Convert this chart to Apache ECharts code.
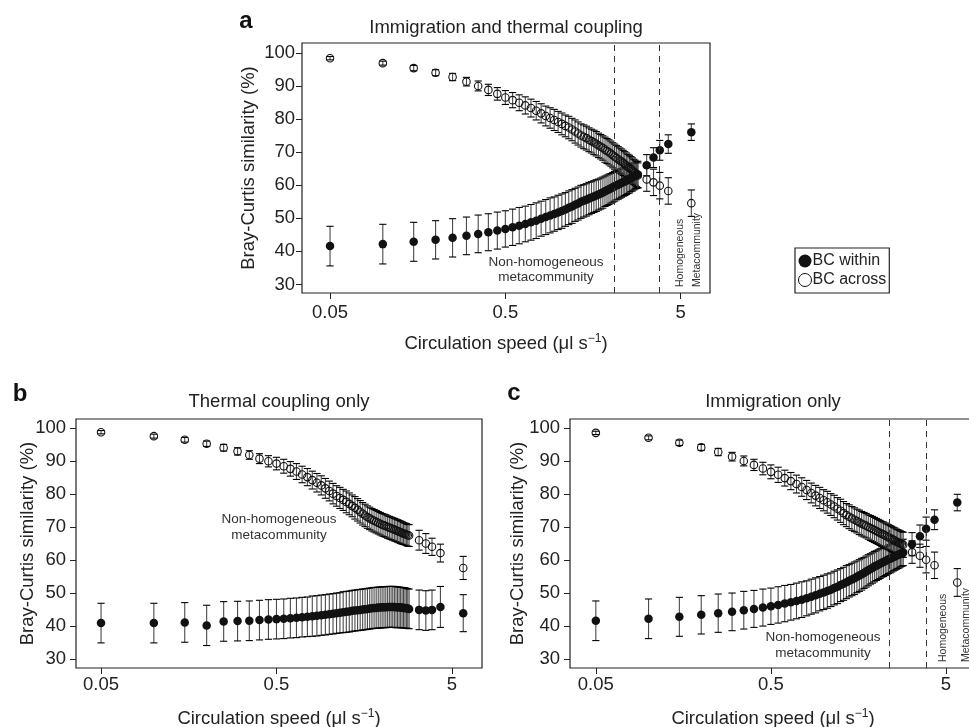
<!DOCTYPE html>
<html>
<head>
<meta charset="utf-8">
<script src="https://cdn.jsdelivr.net/npm/echarts/dist/echarts.min.js"></script>
<style>
html,body{margin:0;padding:0;background:#fff;}
#chart{width:969px;height:727px;}
</style>
</head>
<body>
<div id="chart"></div>
<script>
// ---------- data ----------
const speeds = [0.05,0.1,0.15,0.2,0.25,0.3,0.35,0.4,0.45,0.5,0.55,0.6,0.65,0.7,0.75,0.8,0.85,0.9,0.95,1.0,
  1.05,1.1,1.15,1.2,1.25,1.3,1.35,1.4,1.45,1.5,1.55,1.6,1.65,1.7,1.75,1.8,1.85,1.9,1.95,2.0,
  2.05,2.1,2.15,2.2,2.25,2.3,2.35,2.4,2.45,2.5,2.55,2.6,2.65,2.7,2.75,2.8,2.85];
const xTicks = [0.05, 0.5, 5];
const yTicks = [30, 40, 50, 60, 70, 80, 90, 100];

// panel a: Immigration and thermal coupling
const aWithin = [41.6,42.2,42.9,43.5,44.1,44.7,45.3,45.8,46.3,46.8,47.3,47.8,48.3,48.8,49.3,49.9,50.4,50.9,51.3,51.8,
  52.2,52.7,53.2,53.6,54.1,54.5,55.0,55.3,55.6,56.0,56.3,56.6,56.9,57.2,57.5,57.8,58.2,58.5,58.8,59.1,
  59.4,59.7,60.0,60.2,60.5,60.7,61.0,61.2,61.4,61.7,61.9,62.2,62.4,62.7,62.9,63.1,63.3];
const aWithinErr = [6.0,6.0,5.9,5.8,5.8,5.7,5.7,5.6,5.6,5.5,5.5,5.5,5.4,5.4,5.4,5.3,5.3,5.3,5.2,5.2,
  5.2,5.1,5.1,5.1,5.0,5.0,5.0,4.9,4.9,4.9,4.8,4.8,4.8,4.7,4.7,4.7,4.6,4.6,4.6,4.5,
  4.5,4.5,4.4,4.4,4.4,4.3,4.3,4.3,4.2,4.2,4.2,4.1,4.1,4.1,4.0,4.0,4.0];
const aAcross = [98.5,97.0,95.5,94.1,92.8,91.4,90.1,88.9,87.7,86.6,85.8,85.0,84.2,83.4,82.6,81.8,81.0,80.4,79.8,79.2,
  78.6,78.0,77.5,76.9,76.3,75.7,75.1,74.7,74.3,73.8,73.4,73.0,72.6,72.1,71.7,71.3,70.8,70.4,70.0,69.6,
  69.1,68.7,68.3,67.9,67.5,67.2,66.8,66.4,66.0,65.6,65.3,64.9,64.5,64.1,63.8,63.4,63.0];
const aAcrossErr = [0.5,0.6,0.8,0.9,1.1,1.3,1.5,1.7,1.9,2.1,2.3,2.4,2.6,2.7,2.8,2.9,3.0,3.1,3.2,3.2,
  3.3,3.3,3.4,3.4,3.5,3.5,3.5,3.6,3.6,3.6,3.6,3.7,3.7,3.7,3.7,3.7,3.8,3.8,3.8,3.8,
  3.8,3.8,3.8,3.8,3.8,3.8,3.8,3.8,3.8,3.8,3.8,3.8,3.8,3.8,3.8,3.8,3.8];
const aSpeedsHigh = [3.2, 3.5, 3.8, 4.25, 5.75];
const aWithinHigh = [66.1, 68.4, 70.6, 72.5, 76.1];
const aWithinHighErr = [3.2, 3.0, 3.0, 2.8, 2.5];
const aAcrossHigh = [61.8, 60.9, 59.9, 58.3, 54.6];
const aAcrossHighErr = [3.6, 4.0, 4.0, 4.0, 4.0];
const aBoundaries = [2.09, 3.75];

// panel b: Thermal coupling only
const bWithin = [40.9,40.9,41.1,40.2,41.4,41.5,41.6,41.8,42.0,42.1,42.2,42.4,42.5,42.7,42.8,43.0,43.1,43.3,43.4,43.6,
  43.7,43.9,44.0,44.2,44.3,44.4,44.6,44.7,44.8,44.9,45.0,45.1,45.2,45.3,45.4,45.5,45.5,45.6,45.6,45.7,
  45.7,45.7,45.8,45.8,45.8,45.8,45.8,45.7,45.7,45.7,45.6,45.6,45.5,45.5,45.4,45.3,45.2];
const bWithinErr = [6.0,6.0,6.0,6.1,6.0,6.0,6.0,6.0,6.0,6.0,6.0,6.0,6.0,6.0,6.0,6.1,6.1,6.1,6.1,6.1,
  6.1,6.1,6.1,6.2,6.2,6.2,6.2,6.2,6.2,6.2,6.2,6.2,6.2,6.2,6.2,6.2,6.2,6.2,6.2,6.2,
  6.2,6.2,6.2,6.2,6.2,6.2,6.2,6.2,6.2,6.1,6.1,6.1,6.1,6.1,6.0,6.0,6.0];
const bAcross = [98.7,97.5,96.4,95.2,94.0,92.9,91.8,90.7,89.9,89.2,88.4,87.6,86.8,85.9,85.1,84.2,83.4,82.6,81.7,80.9,
  80.1,79.4,78.8,78.2,77.6,77.0,76.4,75.8,75.2,74.6,74.0,73.5,73.0,72.6,72.2,71.9,71.6,71.3,71.0,70.7,
  70.5,70.3,70.0,69.8,69.6,69.4,69.2,69.0,68.8,68.6,68.4,68.2,68.0,67.9,67.7,67.5,67.4];
const bAcrossErr = [0.5,0.6,0.7,0.8,1.0,1.1,1.3,1.5,1.7,1.9,2.1,2.2,2.4,2.5,2.6,2.7,2.8,2.9,3.0,3.0,
  3.1,3.1,3.2,3.2,3.3,3.3,3.3,3.4,3.4,3.4,3.4,3.4,3.4,3.4,3.4,3.4,3.4,3.4,3.4,3.4,
  3.4,3.4,3.4,3.4,3.4,3.4,3.4,3.4,3.4,3.4,3.4,3.4,3.3,3.3,3.3,3.3,3.3];
const bSpeedsHigh = [3.25, 3.55, 3.85, 4.3, 5.8];
const bWithinHigh = [44.9, 44.7, 44.9, 45.8, 43.9];
const bWithinHighErr = [6.0, 6.0, 6.0, 6.2, 5.6];
const bAcrossHigh = [66.0, 65.0, 64.0, 62.1, 57.6];
const bAcrossHighErr = [3.0, 3.0, 2.6, 2.7, 3.5];

// panel c: Immigration only
const cWithin = [41.6,42.2,42.8,43.4,43.9,44.3,44.8,45.2,45.6,46.0,46.4,46.8,47.2,47.6,48.0,48.4,48.9,49.3,49.8,50.2,
  50.6,51.0,51.5,51.9,52.4,52.8,53.3,53.7,54.1,54.5,54.9,55.3,55.7,56.1,56.5,56.9,57.3,57.6,58.0,58.3,
  58.6,58.9,59.2,59.4,59.7,59.9,60.2,60.4,60.6,60.9,61.1,61.3,61.5,61.7,61.9,62.1,62.3];
const cWithinErr = [6.0,6.0,5.9,5.8,5.8,5.7,5.7,5.6,5.6,5.5,5.5,5.5,5.4,5.4,5.4,5.3,5.3,5.3,5.2,5.2,
  5.2,5.1,5.1,5.1,5.0,5.0,5.0,4.9,4.9,4.9,4.8,4.8,4.8,4.7,4.7,4.7,4.6,4.6,4.6,4.5,
  4.5,4.5,4.4,4.4,4.4,4.3,4.3,4.3,4.2,4.2,4.2,4.1,4.1,4.1,4.0,4.0,4.0];
const cAcross = [98.5,97.0,95.5,94.1,92.7,91.3,90.0,88.8,87.7,86.7,85.8,84.8,83.9,83.0,82.1,81.2,80.3,79.5,78.8,78.1,
  77.5,76.8,76.2,75.5,74.9,74.2,73.6,73.1,72.6,72.2,71.8,71.4,71.0,70.7,70.4,70.0,69.7,69.4,69.1,68.8,
  68.5,68.2,67.9,67.7,67.4,67.1,66.9,66.6,66.4,66.1,65.9,65.6,65.4,65.2,65.0,64.8,64.6];
const cAcrossErr = [0.5,0.6,0.8,0.9,1.1,1.3,1.5,1.7,1.9,2.1,2.3,2.4,2.6,2.7,2.8,2.9,3.0,3.1,3.2,3.2,
  3.3,3.3,3.4,3.4,3.5,3.5,3.5,3.6,3.6,3.6,3.6,3.7,3.7,3.7,3.7,3.7,3.8,3.8,3.8,3.8,
  3.8,3.8,3.8,3.8,3.8,3.8,3.8,3.8,3.8,3.8,3.8,3.8,3.8,3.8,3.8,3.8,3.8];
const cSpeedsHigh = [3.2, 3.55, 3.85, 4.3, 5.8];
const cWithinHigh = [64.8, 67.2, 69.5, 72.2, 77.4];
const cWithinHighErr = [3.5, 3.4, 3.5, 3.0, 2.5];
const cAcrossHigh = [62.4, 61.3, 60.1, 58.4, 53.2];
const cAcrossHighErr = [3.4, 3.5, 4.0, 4.0, 4.2];
const cBoundaries = [2.37, 3.87];

const panelTitles = ['Immigration and thermal coupling', 'Thermal coupling only', 'Immigration only'];
const panelLetters = ['a', 'b', 'c'];

// ---------- helpers ----------
const FONT = '"Liberation Sans", Arial, Helvetica, sans-serif';
const TXT = '#222';
const FS = 18.5;

function pts(xs, ys) { return xs.map((x, i) => [x, ys[i]]); }
function bars(xs, ys, es) { return xs.map((x, i) => [x, ys[i] - es[i], ys[i] + es[i]]); }

const panels = [
  {speeds: speeds, hi: aSpeedsHigh, w: aWithin, we: aWithinErr, a: aAcross, ae: aAcrossErr,
   wh: aWithinHigh, whe: aWithinHighErr, ah: aAcrossHigh, ahe: aAcrossHighErr, bounds: aBoundaries},
  {speeds: speeds, hi: bSpeedsHigh, w: bWithin, we: bWithinErr, a: bAcross, ae: bAcrossErr,
   wh: bWithinHigh, whe: bWithinHighErr, ah: bAcrossHigh, ahe: bAcrossHighErr, bounds: []},
  {speeds: speeds, hi: cSpeedsHigh, w: cWithin, we: cWithinErr, a: cAcross, ae: cAcrossErr,
   wh: cWithinHigh, whe: cWithinHighErr, ah: cAcrossHigh, ahe: cAcrossHighErr, bounds: cBoundaries}
];

const grids = [
  {left: 302, top: 43, width: 408, height: 250},
  {left: 76, top: 419, width: 406, height: 249},
  {left: 570, top: 419, width: 406, height: 249}
];
const xRanges = [[0.0346, 7.35], [0.036, 7.42], [0.0356, 7.42]];
const yRanges = [[27.4, 103.1], [27.3, 102.7], [27.3, 102.7]];
const yLabelMargin = [7, 10, 10];
const yNameGap = [44, 39, 43];
const xLabelMargin = [10, 7, 7];

function errorRender(params, api) {
  const x = api.value(0), lo = api.value(1), hi = api.value(2);
  const p1 = api.coord([x, hi]);
  const p2 = api.coord([x, lo]);
  const w = 3.6;
  return {
    type: 'group',
    children: [
      {type: 'line', shape: {x1: p1[0], y1: p1[1], x2: p2[0], y2: p2[1]}, style: {stroke: '#4a4a4a', lineWidth: 1.1}},
      {type: 'line', shape: {x1: p1[0] - w, y1: p1[1], x2: p1[0] + w, y2: p1[1]}, style: {stroke: '#000', lineWidth: 1.1}},
      {type: 'line', shape: {x1: p2[0] - w, y1: p2[1], x2: p2[0] + w, y2: p2[1]}, style: {stroke: '#000', lineWidth: 1.1}}
    ]
  };
}

const option = {
  animation: false,
  backgroundColor: '#fff',
  textStyle: {fontFamily: FONT},
  grid: grids.map(g => Object.assign({show: true, borderColor: '#222', borderWidth: 1.2,
    backgroundColor: 'transparent', containLabel: false, outerBoundsMode: 'none'}, g)),
  xAxis: grids.map((g, i) => ({
    type: 'log', gridIndex: i, min: xRanges[i][0], max: xRanges[i][1],
    axisLine: {show: false},
    axisTick: {show: true, length: 6, customValues: xTicks, lineStyle: {color: '#222', width: 1}},
    axisLabel: {customValues: xTicks, margin: xLabelMargin[i], fontSize: FS, color: TXT, fontFamily: FONT,
      formatter: v => String(+v.toPrecision(3))},
    splitLine: {show: false}, minorTick: {show: false},
    name: 'Circulation speed (μl s{sup|−1})', nameLocation: 'middle', nameGap: 40, nameMoveOverlap: false,
    nameTextStyle: {fontSize: FS, color: TXT, fontFamily: FONT,
      rich: {sup: {fontSize: 12, color: TXT, fontFamily: FONT, verticalAlign: 'top', padding: [0, 0, 9, 0]}}}
  })),
  yAxis: grids.map((g, i) => ({
    type: 'value', gridIndex: i, min: yRanges[i][0], max: yRanges[i][1],
    axisLine: {show: false},
    axisTick: {show: true, length: 6, customValues: yTicks, lineStyle: {color: '#222', width: 1}},
    axisLabel: {customValues: yTicks, margin: yLabelMargin[i], fontSize: FS, color: TXT, fontFamily: FONT},
    splitLine: {show: false},
    name: 'Bray-Curtis similarity (%)', nameLocation: 'middle', nameGap: yNameGap[i], nameRotate: 90,
    nameMoveOverlap: false,
    nameTextStyle: {fontSize: FS, color: TXT, fontFamily: FONT}
  })),
  legend: {
    left: 795, top: 248, orient: 'vertical',
    borderColor: '#222', borderWidth: 1.2, padding: [5, 3, 5, 3], itemGap: 3,
    itemWidth: 13, itemHeight: 13,
    textStyle: {fontSize: 16, color: TXT, fontFamily: FONT, padding: [0, 0, 0, -4]},
    data: [
      {name: 'BC within', icon: 'circle', itemStyle: {color: '#111', borderWidth: 0}},
      {name: 'BC across', icon: 'circle', itemStyle: {color: '#fff', borderColor: '#111', borderWidth: 1}}
    ]
  },
  series: [],
  graphic: []
};

panels.forEach((p, i) => {
  const allX = p.speeds.concat(p.hi);
  const wY = p.w.concat(p.wh), wE = p.we.concat(p.whe);
  const aY = p.a.concat(p.ah), aE = p.ae.concat(p.ahe);
  option.series.push({
    type: 'custom', xAxisIndex: i, yAxisIndex: i, renderItem: errorRender,
    encode: {x: 0, y: [1, 2]}, data: bars(allX, wY, wE), z: 2, silent: true
  });
  option.series.push({
    type: 'custom', xAxisIndex: i, yAxisIndex: i, renderItem: errorRender,
    encode: {x: 0, y: [1, 2]}, data: bars(allX, aY, aE), z: 2, silent: true
  });
  option.series.push({
    name: 'BC within', type: 'scatter', xAxisIndex: i, yAxisIndex: i,
    symbol: 'circle', symbolSize: 8.5, z: 3,
    itemStyle: {color: '#111', opacity: 1},
    data: pts(allX, wY)
  });
  const across = {
    name: 'BC across', type: 'scatter', xAxisIndex: i, yAxisIndex: i,
    symbol: 'circle', symbolSize: 7.5, z: 4,
    itemStyle: {color: 'rgba(255,255,255,0)', borderColor: '#111', borderWidth: 1.1, opacity: 1},
    data: pts(allX, aY)
  };
  if (p.bounds.length) {
    across.markLine = {
      silent: true, symbol: 'none', label: {show: false},
      lineStyle: {type: [6, 5], color: '#333', width: 1},
      data: p.bounds.map(v => ({xAxis: v}))
    };
  }
  option.series.push(across);
});

// titles and panel letters
const titlePos = [[506, 28], [279, 402], [773, 402]];
const letterPos = [[246, 21], [20, 394], [514, 393]];
panelTitles.forEach((t, i) => {
  option.graphic.push({type: 'text', x: titlePos[i][0], y: titlePos[i][1],
    style: {text: t, font: FS + 'px ' + FONT, fill: TXT, align: 'center', verticalAlign: 'middle'}});
  option.graphic.push({type: 'text', x: letterPos[i][0], y: letterPos[i][1],
    style: {text: panelLetters[i], font: 'bold 24px ' + FONT, fill: '#111', align: 'center', verticalAlign: 'middle'}});
});

// region annotations
const annot = [
  [546, 262, 'Non-homogeneous'], [546, 277, 'metacommunity'],
  [279, 519, 'Non-homogeneous'], [279, 535, 'metacommunity'],
  [823, 637, 'Non-homogeneous'], [823, 653, 'metacommunity']
];
annot.forEach(a => option.graphic.push({type: 'text', x: a[0], y: a[1],
  style: {text: a[2], font: '13.5px ' + FONT, fill: '#333', align: 'center', verticalAlign: 'middle'}}));
const vAnnot = [
  [680, 287, 'Homogeneous'], [697, 287, 'Metacommunity'],
  [943, 662, 'Homogeneous'], [966, 662, 'Metacommunity']
];
vAnnot.forEach(a => option.graphic.push({type: 'text', x: a[0], y: a[1], rotation: Math.PI / 2,
  style: {text: a[2], font: '10.5px ' + FONT, fill: '#333', align: 'left', verticalAlign: 'middle'}}));

const chart = echarts.init(document.getElementById('chart'), null, {renderer: 'canvas'});
chart.setOption(option);
</script>
</body>
</html>
